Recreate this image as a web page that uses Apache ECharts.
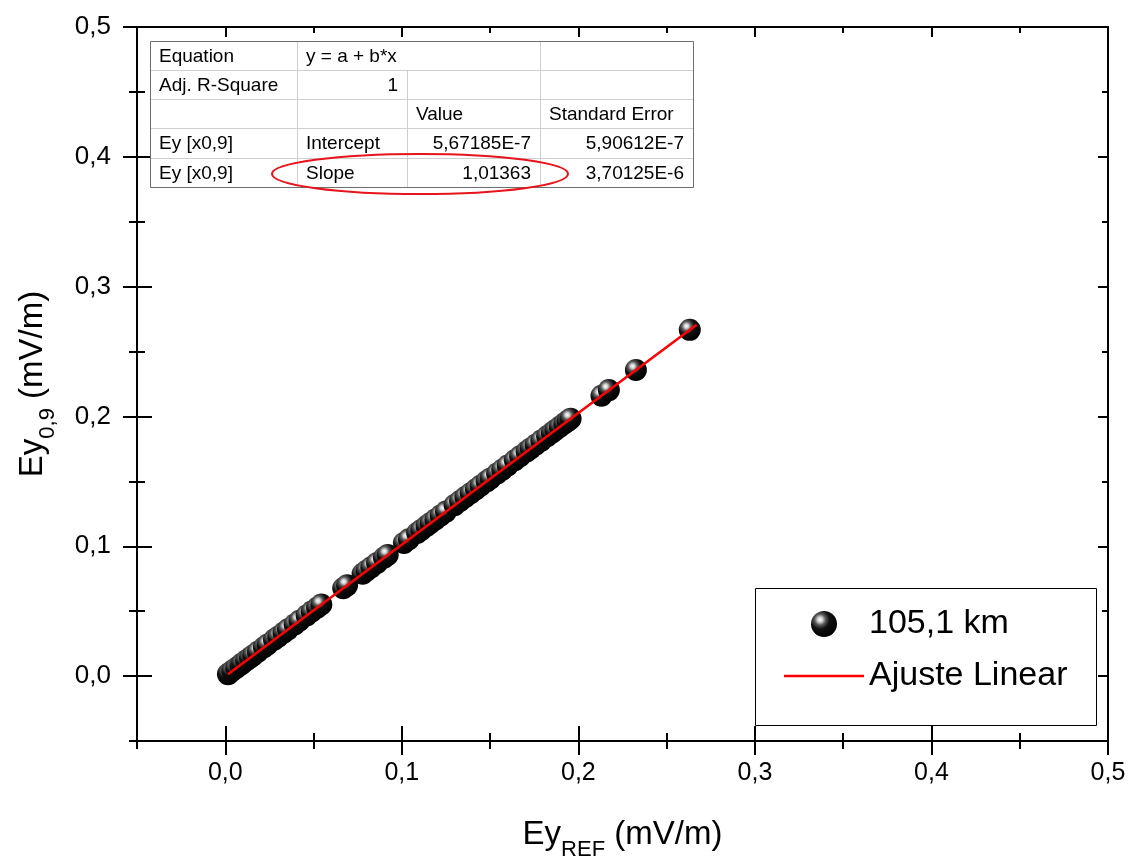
<!DOCTYPE html>
<html>
<head>
<meta charset="utf-8">
<title>Ey 0,9 x Ey REF</title>
<script src="https://cdn.jsdelivr.net/npm/echarts@6/dist/echarts.min.js"></script>
<style>
  html, body { margin: 0; padding: 0; background: #fff; }
  #chart { width: 1137px; height: 866px; }
</style>
</head>
<body>
<div id="chart"></div>
<script>
// dados (mV/m)
var eyRef = [0.0015, 0.0021, 0.0040, 0.0062, 0.0085, 0.0096, 0.0118, 0.0140, 0.0159, 0.0185,
             0.0219, 0.0240, 0.0276, 0.0300, 0.0330, 0.0355, 0.0393, 0.0420, 0.0461, 0.0490,
             0.0520, 0.0544, 0.0668, 0.0690, 0.0778, 0.0800, 0.0827, 0.0860, 0.0899, 0.0920,
             0.1012, 0.1040, 0.1087, 0.1110, 0.1140, 0.1163, 0.1190, 0.1220, 0.1250, 0.1299,
             0.1330, 0.1360, 0.1390, 0.1420, 0.1446, 0.1480, 0.1503, 0.1540, 0.1569, 0.1600,
             0.1640, 0.1670, 0.1707, 0.1730, 0.1758, 0.1790, 0.1823, 0.1850, 0.1870, 0.1895,
             0.1920, 0.1940, 0.1956, 0.2131, 0.2173, 0.2326, 0.2631];
var ey09 = [0.0015, 0.0021, 0.0041, 0.0063, 0.0086, 0.0097, 0.0120, 0.0142, 0.0161, 0.0188,
            0.0222, 0.0243, 0.0280, 0.0304, 0.0334, 0.0360, 0.0398, 0.0426, 0.0467, 0.0497,
            0.0527, 0.0551, 0.0677, 0.0699, 0.0789, 0.0811, 0.0838, 0.0872, 0.0911, 0.0933,
            0.1026, 0.1054, 0.1102, 0.1125, 0.1156, 0.1179, 0.1206, 0.1237, 0.1267, 0.1317,
            0.1348, 0.1379, 0.1409, 0.1439, 0.1466, 0.1500, 0.1523, 0.1561, 0.1590, 0.1622,
            0.1662, 0.1693, 0.1730, 0.1754, 0.1782, 0.1814, 0.1848, 0.1875, 0.1895, 0.1921,
            0.1946, 0.1966, 0.1983, 0.2160, 0.2203, 0.2358, 0.2667];

// ajuste linear (extremos da reta)
var fitX = [0.0015, 0.267];
var fitY = [0.0015, 0.2706];

var xMajor = [0, 0.1, 0.2, 0.3, 0.4, 0.5];
var xMinor = [-0.05, 0.05, 0.15, 0.25, 0.35, 0.45];
var yMajor = [0, 0.1, 0.2, 0.3, 0.4, 0.5];
var yMinor = [-0.05, 0.05, 0.15, 0.25, 0.35, 0.45];

var tableRows = [
    ['Equation', 'y = a + b*x', '', ''],
    ['Adj. R-Square', '1', '', ''],
    ['', '', 'Value', 'Standard Error'],
    ['Ey [x0,9]', 'Intercept', '5,67185E-7', '5,90612E-7'],
    ['Ey [x0,9]', 'Slope', '1,01363', '3,70125E-6']
];
var tableRight = [
    [false, false, false, false],
    [false, true, false, false],
    [false, false, false, false],
    [false, false, true, true],
    [false, false, true, true]
];

var FONT = '"Liberation Sans", Arial, sans-serif';

var chart = echarts.init(document.getElementById('chart'));

function fmt(v) {
    return v.toFixed(1).replace('.', ',');
}

// eixo "so de ticks" (para fazer ticks cruzados e menores)
function tickAxis(pos, values, len, inside) {
    return {
        type: 'value',
        position: pos,
        min: -0.05,
        max: 0.5,
        axisLine: {show: false, onZero: false},
        axisLabel: {show: false},
        splitLine: {show: false},
        axisTick: {
            show: true,
            inside: inside,
            length: len,
            customValues: values,
            lineStyle: {color: '#000', width: 2}
        }
    };
}

var nameRich = {
    m: {fontSize: 33, fontFamily: FONT, color: '#000', lineHeight: 52},
    s: {fontSize: 22, fontFamily: FONT, color: '#000', lineHeight: 22, verticalAlign: 'bottom'}
};

var xMain = {
    type: 'value',
    position: 'bottom',
    min: -0.05,
    max: 0.5,
    name: '{m|Ey}{s|REF}{m| (mV/m)}',
    nameLocation: 'middle',
    nameGap: 68,
    nameTextStyle: {rich: nameRich},
    axisLine: {show: true, onZero: false, lineStyle: {color: '#000', width: 2}},
    axisTick: {show: true, inside: false, length: 14, customValues: xMajor,
               lineStyle: {color: '#000', width: 2}},
    axisLabel: {show: true, customValues: xMajor, margin: 20, formatter: fmt,
                fontSize: 25, fontFamily: FONT, color: '#000'},
    splitLine: {show: false}
};

var yMain = {
    type: 'value',
    position: 'left',
    min: -0.05,
    max: 0.5,
    name: '{m|Ey}{s|0,9}{m| (mV/m)}',
    nameLocation: 'middle',
    nameGap: 78,
    nameTextStyle: {rich: nameRich},
    axisLine: {show: true, onZero: false, lineStyle: {color: '#000', width: 2}},
    axisTick: {show: true, inside: false, length: 14, customValues: yMajor,
               lineStyle: {color: '#000', width: 2}},
    axisLabel: {show: true, customValues: yMajor, margin: 26, formatter: fmt,
                fontSize: 26, fontFamily: FONT, color: '#000'},
    splitLine: {show: false}
};

var xTop = tickAxis('top', xMajor, 10, true);
xTop.axisLine = {show: true, onZero: false, lineStyle: {color: '#000', width: 2}};
var yRight = tickAxis('right', yMajor, 10, true);
yRight.axisLine = {show: true, onZero: false, lineStyle: {color: '#000', width: 2}};

// tabela do ajuste
var colX = [150, 297, 407, 540, 693];
var rowY = [41, 70, 99, 128, 158, 187];
var tableEls = [{
    type: 'rect',
    shape: {x: colX[0] + 0.5, y: rowY[0] + 0.5, width: colX[4] - colX[0], height: rowY[5] - rowY[0]},
    style: {fill: '#fff', stroke: '#6e6e6e', lineWidth: 1},
    z: 10
}];
for (var r = 1; r < rowY.length - 1; r++) {
    tableEls.push({
        type: 'line',
        shape: {x1: colX[0] + 1, y1: rowY[r] + 0.5, x2: colX[4], y2: rowY[r] + 0.5},
        style: {stroke: '#cfcfcf', lineWidth: 1},
        z: 11
    });
}
for (var c = 1; c < colX.length - 1; c++) {
    var y0 = (c === 2) ? rowY[1] : rowY[0];
    tableEls.push({
        type: 'line',
        shape: {x1: colX[c] + 0.5, y1: y0 + 1, x2: colX[c] + 0.5, y2: rowY[5]},
        style: {stroke: '#cfcfcf', lineWidth: 1},
        z: 11
    });
}
for (var i = 0; i < tableRows.length; i++) {
    for (var j = 0; j < 4; j++) {
        if (!tableRows[i][j]) continue;
        var right = tableRight[i][j];
        tableEls.push({
            type: 'text',
            x: right ? colX[j + 1] - 9 : colX[j] + 9,
            y: (rowY[i] + rowY[i + 1]) / 2 + 1,
            style: {
                text: tableRows[i][j],
                fontSize: 19,
                fontFamily: FONT,
                fill: '#000',
                align: right ? 'right' : 'left',
                verticalAlign: 'middle'
            },
            z: 12
        });
    }
}
// destaque do slope
tableEls.push({
    type: 'ellipse',
    shape: {cx: 420, cy: 174, rx: 148, ry: 20},
    style: {fill: 'transparent', stroke: '#e8141b', lineWidth: 2},
    z: 13
});
// caixa da legenda
tableEls.push({
    type: 'rect',
    shape: {x: 755.5, y: 588.5, width: 341, height: 137},
    style: {fill: '#fff', stroke: '#000', lineWidth: 1},
    z: 1
});

var sphere = {
    type: 'radial',
    x: 0.35,
    y: 0.33,
    r: 0.7,
    colorStops: [
        {offset: 0, color: '#ffffff'},
        {offset: 0.14, color: '#d0d0d0'},
        {offset: 0.3, color: '#5a5a5a'},
        {offset: 0.52, color: '#101010'},
        {offset: 1, color: '#000000'}
    ]
};

var points = [];
for (var k = 0; k < eyRef.length; k++) {
    points.push([eyRef[k], ey09[k]]);
}

var option = {
    backgroundColor: '#fff',
    animation: false,
    grid: {left: 137, right: 29, top: 27, bottom: 124, containLabel: false},
    legend: {
        orient: 'vertical',
        left: 779,
        top: 602,
        itemWidth: 80,
        itemHeight: 26,
        itemGap: 18,
        z: 20,
        textStyle: {fontSize: 34, fontFamily: FONT, color: '#000'},
        data: [
            {name: '105,1 km'},
            {name: 'Ajuste Linear', icon: 'path://M0,0L80,0L80,2.5L0,2.5Z'}
        ]
    },
    xAxis: [
        xMain,
        tickAxis('bottom', xMajor, 15, true),
        tickAxis('bottom', xMinor, 8, false),
        tickAxis('bottom', xMinor, 8, true),
        xTop,
        tickAxis('top', xMinor, 6, true)
    ],
    yAxis: [
        yMain,
        tickAxis('left', yMajor, 15, true),
        tickAxis('left', yMinor, 8, false),
        tickAxis('left', yMinor, 8, true),
        yRight,
        tickAxis('right', yMinor, 6, true)
    ],
    graphic: {elements: tableEls},
    series: [{
        name: '105,1 km',
        type: 'scatter',
        symbol: 'circle',
        symbolSize: 22,
        itemStyle: {color: sphere, opacity: 1},
        z: 2,
        data: points
    }, {
        name: 'Ajuste Linear',
        type: 'line',
        symbol: 'none',
        showSymbol: false,
        lineStyle: {color: '#ff0000', width: 2.5},
        itemStyle: {color: '#ff0000'},
        z: 3,
        data: [[fitX[0], fitY[0]], [fitX[1], fitY[1]]]
    }]
};

chart.setOption(option);
</script>
</body>
</html>
